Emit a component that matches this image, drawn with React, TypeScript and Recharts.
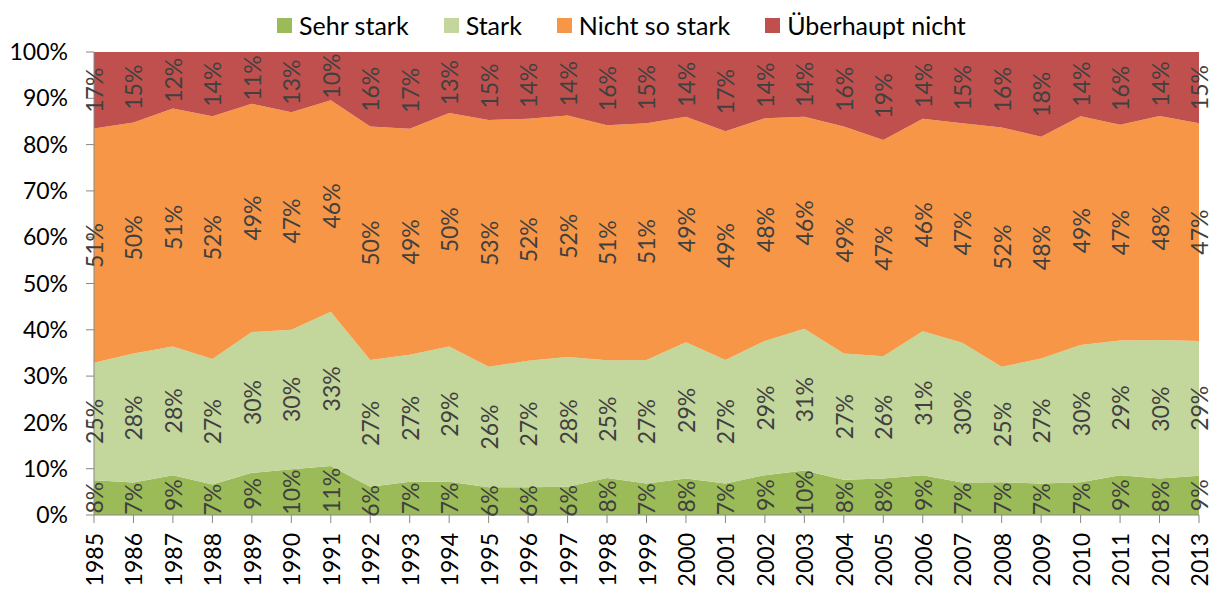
import React from 'react';
import { ComposedChart, Area, Line, XAxis, YAxis, LabelList } from 'recharts';

const years = ['1985','1986','1987','1988','1989','1990','1991','1992','1993','1994','1995','1996','1997','1998','1999','2000','2001','2002','2003','2004','2005','2006','2007','2008','2009','2010','2011','2012','2013'];

const sehrStark = [7.5, 7.0, 8.6, 6.6, 9.1, 9.9, 10.6, 6.1, 7.2, 7.2, 6.0, 6.0, 6.1, 8.0, 6.8, 7.9, 6.8, 8.6, 9.6, 7.6, 7.9, 8.6, 7.0, 7.1, 6.8, 7.1, 8.6, 7.9, 8.5];
const stark = [25.4, 27.9, 27.8, 27.1, 30.4, 30.1, 33.3, 27.4, 27.4, 29.2, 26.0, 27.3, 28.0, 25.4, 26.7, 29.4, 26.7, 29.0, 30.6, 27.3, 26.4, 31.1, 30.2, 24.9, 27.0, 29.6, 29.1, 29.9, 29.1];
const nichtSoStark = [50.6, 49.9, 51.4, 52.4, 49.3, 47.0, 45.7, 50.4, 48.8, 50.4, 53.3, 52.3, 52.2, 50.8, 51.1, 48.7, 49.4, 48.1, 45.8, 49.0, 46.7, 45.9, 47.4, 51.7, 47.9, 49.4, 46.6, 48.4, 47.0];
const ueberhauptNicht = [16.5, 15.2, 12.2, 13.9, 11.2, 13.0, 10.4, 16.1, 16.6, 13.2, 14.7, 14.4, 13.7, 15.8, 15.4, 14.0, 17.1, 14.3, 14.0, 16.1, 19.0, 14.4, 15.4, 16.3, 18.3, 13.9, 15.7, 13.8, 15.4];

const yTicks = [0, 10, 20, 30, 40, 50, 60, 70, 80, 90, 100];

const seriesNames = ['Sehr stark', 'Stark', 'Nicht so stark', 'Überhaupt nicht'];
const seriesColors = ['#9BBB59', '#C3D69B', '#F79646', '#C0504D'];
const seriesValues = [sehrStark, stark, nichtSoStark, ueberhauptNicht];

const FONT = 'Lato, "Open Sans", sans-serif';

const data = years.map((year, i) => {
  const row: Record<string, any> = { year };
  let base = 0;
  seriesValues.forEach((vals, s) => {
    row[`v${s}`] = vals[i];
    row[`m${s}`] = base + vals[i] / 2;
    base += vals[i];
  });
  return row;
});

const makeLabel = (s: number) => (props: any) => {
  const { x, y, index } = props;
  if (x == null || y == null || index == null) return null;
  const v = seriesValues[s][index];
  return (
    <text
      x={x}
      y={y}
      transform={`rotate(-90, ${x}, ${y})`}
      textAnchor="middle"
      dominantBaseline="central"
      fill="#404040"
      fontSize={23}
      fontFamily={FONT}
    >
      {`${Math.round(v)}%`}
    </text>
  );
};

const XTick = (props: any) => {
  const { x, y, payload } = props;
  return (
    <text
      x={x}
      y={y}
      transform={`rotate(-90, ${x}, ${y})`}
      textAnchor="end"
      dominantBaseline="central"
      fill="#000"
      fontSize={23}
      fontFamily={FONT}
    >
      {payload.value}
    </text>
  );
};

export default function App() {
  return (
    <div style={{ position: 'absolute', left: 0, top: 0, width: 1219, height: 590, background: '#fff' }}>
      <div
        style={{
          position: 'absolute',
          left: 277,
          top: 11,
          height: 28,
          display: 'flex',
          alignItems: 'center',
          fontFamily: FONT,
          fontSize: 25,
          color: '#000',
          whiteSpace: 'nowrap',
        }}
      >
        {seriesNames.map((name, s) => (
          <div key={name} style={{ display: 'flex', alignItems: 'center', marginRight: 35 }}>
            <span style={{ display: 'inline-block', width: 15, height: 15, background: seriesColors[s], marginRight: 7 }} />
            <span>{name}</span>
          </div>
        ))}
      </div>
      <ComposedChart
        width={1219}
        height={590}
        data={data}
        margin={{ top: 52, right: 20, left: 0, bottom: 0 }}
      >
        <XAxis
          dataKey="year"
          interval={0}
          height={75}
          tickSize={8}
          tickMargin={10}
          axisLine={{ stroke: '#868686' }}
          tickLine={{ stroke: '#868686' }}
          tick={<XTick />}
        />
        <YAxis
          type="number"
          domain={[0, 100]}
          ticks={yTicks}
          allowDataOverflow
          width={94}
          tickSize={8}
          tickMargin={18}
          tickFormatter={(v: number) => `${v}%`}
          axisLine={{ stroke: '#868686' }}
          tickLine={{ stroke: '#868686' }}
          tick={{ fill: '#000', fontSize: 23, fontFamily: FONT }}
        />
        {seriesValues.map((_, s) => (
          <Area
            key={`a${s}`}
            type="linear"
            dataKey={`v${s}`}
            stackId="stack"
            name={seriesNames[s]}
            fill={seriesColors[s]}
            fillOpacity={1}
            stroke="none"
            dot={false}
            activeDot={false}
            isAnimationActive={false}
          />
        ))}
        {seriesValues.map((_, s) => (
          <Line
            key={`l${s}`}
            type="linear"
            dataKey={`m${s}`}
            stroke="none"
            dot={false}
            activeDot={false}
            legendType="none"
            isAnimationActive={false}
          >
            <LabelList dataKey={`m${s}`} content={makeLabel(s)} />
          </Line>
        ))}
      </ComposedChart>
    </div>
  );
}
